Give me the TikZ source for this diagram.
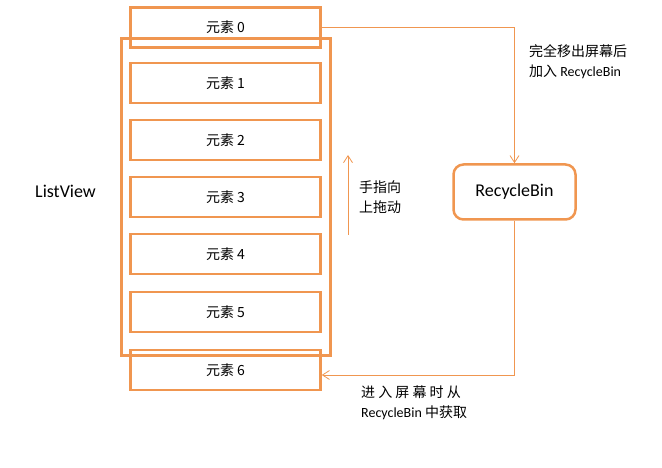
\documentclass[tikz,border=0pt]{standalone}
\usepackage{fontspec}
\setmainfont{Carlito}
\newfontfamily\cjk{Noto Sans CJK SC}
\usepackage{tikz}
\usetikzlibrary{arrows.meta}
\definecolor{listorange}{RGB}{240,150,80}

\begin{document}
\begin{tikzpicture}[x=1pt,y=-1pt,
        item/.style={draw=listorange,line width=2.5pt,inner sep=0pt,
            minimum width=190pt,minimum height=40pt,font=\cjk\fontsize{14}{16}\selectfont},
        flow/.style={draw=listorange,line width=0.8pt,-{Straight Barb[length=7pt,width=9pt]}},
        note/.style={align=left,inner sep=0pt,font=\fontsize{14}{20}\selectfont}]
    \useasboundingbox (0,0) rectangle (662,468);
    % the list view frame
    \node[draw=listorange,line width=2.5pt,minimum width=209pt,minimum height=317pt] (list) at (226,197) {};
    \node[inner sep=0pt,anchor=west,font=\fontsize{18}{20}\selectfont] (listname) at (35,191) {ListView};
    % its items
    \foreach \i/\y in {0/27.5,1/83,2/140,3/197,4/254,5/312,6/370}{
        \node[item] (e\i) at (225.5,\y) {元素 \i};
    }
    % the recycle bin
    \node[draw=listorange,line width=2.5pt,rounded corners=10pt,minimum width=122pt,minimum height=55pt,
        font=\fontsize{18}{20}\selectfont] (bin) at (514.5,192) {RecycleBin};
    \draw[flow] (e0.east) -| (bin.north);
    \draw[flow] (bin.south) |- ([yshift=-5pt]e6.east);
    \node[note,anchor=west] (outnote) at (529,62) {{\cjk 完全移出屏幕后}\\{\cjk 加入} RecycleBin};
    \node[note,anchor=west] (innote) at (361,403) {{\cjk 进 入 屏 幕 时 从}\\RecycleBin {\cjk 中获取}};
    % finger drag
    \coordinate (dragfrom) at (348,235);
    \coordinate (dragto) at (348,155);
    \draw[flow] (dragfrom) -- (dragto);
    \node[note,anchor=west,font=\cjk\fontsize{14}{20}\selectfont] (dragnote) at (359,197) {手指向\\上拖动};
\end{tikzpicture}
\end{document}
